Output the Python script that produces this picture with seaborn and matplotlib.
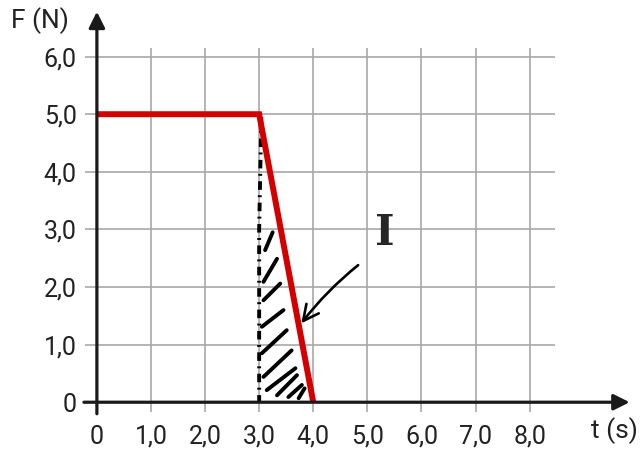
import pandas as pd
import matplotlib.pyplot as plt
import seaborn as sns

# force-time graph
t = [0.0, 3.0, 4.0]
F = [5.0, 5.0, 0.0]
xticks = [0, 1, 2, 3, 4, 5, 6, 7, 8]
xlabels = ['0', '1,0', '2,0', '3,0', '4,0', '5,0', '6,0', '7,0', '8,0']
yticks = [0, 1, 2, 3, 4, 5, 6]
ylabels = ['0', '1,0', '2,0', '3,0', '4,0', '5,0', '6,0']

# hand drawn hatching under the slope (start, end)
hatch = [
    ((3.11, 2.64), (3.25, 2.95)),
    ((3.08, 2.09), (3.33, 2.49)),
    ((3.08, 1.77), (3.39, 2.06)),
    ((3.05, 1.31), (3.45, 1.60)),
    ((3.05, 0.85), (3.51, 1.25)),
    ((3.08, 0.44), (3.60, 0.90)),
    ((3.14, 0.21), (3.67, 0.59)),
    ((3.33, 0.12), (3.70, 0.47)),
    ((3.54, 0.09), (3.79, 0.30)),
    ((3.73, 0.07), (3.84, 0.24)),
]

sns.set_style('white')
plt.rcParams['font.family'] = ['Roboto', 'DejaVu Sans']

df = pd.DataFrame({'t': t, 'F': F})

fig = plt.figure(figsize=(6.4, 4.5), dpi=100)
ax = fig.add_axes([0.1328, 0.0844, 0.7344, 0.809])

sns.lineplot(data=df, x='t', y='F', color='#d40000', lw=4.3, ax=ax, zorder=4,
             solid_capstyle='butt', solid_joinstyle='miter')

ax.set_xlim(-0.22, 8.47)
ax.set_ylim(-0.17, 6.15)
ax.set_xticks(xticks, xlabels)
ax.set_yticks(yticks, ylabels)
ax.grid(True, color='#a8a8a8', lw=1.2)
ax.tick_params(length=0, labelsize=18, labelcolor='#222222')
ax.tick_params(axis='x', pad=9)
ax.tick_params(axis='y', pad=6)
for s in ax.spines.values():
    s.set_visible(False)
ax.set_xlabel('')
ax.set_ylabel('')

# axes with arrows
arrow = dict(arrowstyle='-|>', lw=2.3, color='#1a1a1a', mutation_scale=24,
             shrinkA=0, shrinkB=0)
ax.annotate('', xy=(9.85, 0), xytext=(-0.24, 0), arrowprops=arrow,
            annotation_clip=False, zorder=5)
ax.annotate('', xy=(0, 6.78), xytext=(0, -0.2), arrowprops=arrow,
            annotation_clip=False, zorder=5)
ax.text(-1.05, 6.62, 'F (N)', fontsize=19, color='#222222',
        ha='center', va='center', clip_on=False)
ax.text(9.56, -0.49, 't (s)', fontsize=19, color='#222222',
        ha='center', va='center', clip_on=False)

# handwritten marks
ax.plot([3.04, 3.0, 3.0], [4.95, 3.0, 0.0], color='black', lw=2.8,
        ls=(0, (2.2, 1.4, 0.5, 1.4)), zorder=3)
for (x0, y0), (x1, y1) in hatch:
    ax.plot([x0, x1], [y0, y1], color='black', lw=2.8,
            solid_capstyle='round', zorder=3)
ax.annotate('', xy=(3.78, 1.37), xytext=(4.83, 2.38),
            arrowprops=dict(arrowstyle='->', lw=1.9, color='black',
                            mutation_scale=28, shrinkA=0, shrinkB=0,
                            connectionstyle='arc3,rad=0.06'), zorder=5)
ax.text(5.32, 2.93, 'I', fontsize=30, fontweight='bold', family='DejaVu Serif',
        ha='center', va='center')

plt.savefig('out.png', dpi=100)
